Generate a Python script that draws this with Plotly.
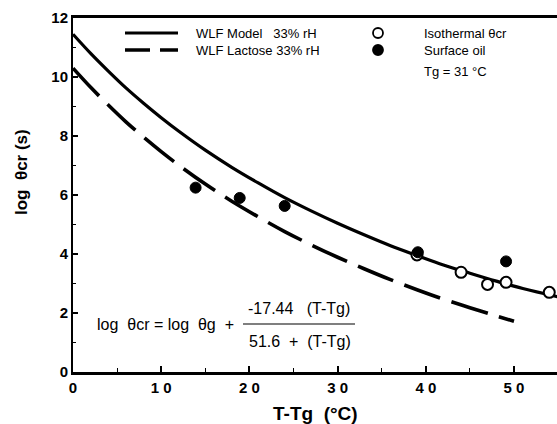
import plotly.graph_objects as go

# --- data ---
model_x = [0, 2, 4, 6, 8, 10, 12, 15, 18, 21, 24, 27, 30, 33, 36, 39, 42, 45, 48, 51, 55]
model_y = [11.45, 10.80, 10.20, 9.63, 9.11, 8.62, 8.16, 7.52, 6.94, 6.41, 5.91, 5.46,
           5.04, 4.65, 4.28, 3.95, 3.63, 3.35, 3.08, 2.83, 2.55]

lactose_x = [0, 2, 4, 6, 8, 10, 12, 15, 18, 21, 24, 27, 30, 33, 36, 39, 42, 45, 48, 50]
lactose_y = [10.30, 9.65, 9.05, 8.48, 7.96, 7.47, 7.01, 6.37, 5.79, 5.26, 4.76, 4.31,
             3.89, 3.50, 3.13, 2.79, 2.47, 2.18, 1.90, 1.72]

iso_x = [39.0, 44.0, 47.0, 49.1, 54.0]
iso_y = [3.97, 3.38, 2.97, 3.04, 2.70]

oil_x = [13.9, 18.9, 24.0, 39.1, 49.1]
oil_y = [6.25, 5.90, 5.63, 4.06, 3.75]

x_tickvals = [0, 10, 20, 30, 40, 50]
x_ticktext = ["0", "1 0", "2 0", "3 0", "4 0", "5 0"]
y_tickvals = [0, 2, 4, 6, 8, 10, 12]
y_ticktext = ["0", "2", "4", "6", "8", "10", "12"]

legend_lines = ["WLF Model   33% rH", "WLF Lactose 33% rH"]
legend_marks = ["Isothermal θcr", "Surface oil"]
tg_note = "Tg = 31 °C"

# --- layout geometry (pixels) ---
W, H = 557, 424
L, R, T, B = 73, 557, 18, 372


def px(x):
    return (x - L) / (R - L)


def py(y):
    return (B - y) / (B - T)


FONT = "Liberation Sans, Arial, Helvetica, sans-serif"

fig = go.Figure()
fig.add_trace(go.Scatter(x=model_x, y=model_y, mode="lines",
                         line=dict(color="black", width=3.2, shape="spline"),
                         showlegend=False, cliponaxis=False))
fig.add_trace(go.Scatter(x=lactose_x, y=lactose_y, mode="lines",
                         line=dict(color="black", width=3.6, dash="38px,12px", shape="spline"),
                         showlegend=False, cliponaxis=False))
fig.add_trace(go.Scatter(x=iso_x, y=iso_y, mode="markers",
                         marker=dict(symbol="circle", size=11, color="white",
                                     line=dict(color="black", width=2)),
                         showlegend=False, cliponaxis=False))
fig.add_trace(go.Scatter(x=oil_x, y=oil_y, mode="markers",
                         marker=dict(symbol="circle", size=11, color="black",
                                     line=dict(color="black", width=1)),
                         showlegend=False, cliponaxis=False))

shapes = []
annotations = []

# legend line samples
shapes.append(dict(type="line", xref="paper", yref="paper",
                   x0=px(125), x1=px(178), y0=py(33), y1=py(33),
                   line=dict(color="black", width=3.2)))
shapes.append(dict(type="line", xref="paper", yref="paper",
                   x0=px(125), x1=px(178), y0=py(50), y1=py(50),
                   line=dict(color="black", width=3.6, dash="25px,10px")))
# legend markers
for yy, fill in [(33, "white"), (50, "black")]:
    shapes.append(dict(type="circle", xref="paper", yref="paper",
                       xsizemode="pixel", ysizemode="pixel",
                       xanchor=px(378), yanchor=py(yy),
                       x0=-5, x1=5, y0=-5, y1=5,
                       fillcolor=fill, line=dict(color="black", width=1.8)))
for txt, yy in zip(legend_lines, [33, 50]):
    annotations.append(dict(text=txt, xref="paper", yref="paper", x=px(194), y=py(yy),
                            xanchor="left", yanchor="middle", showarrow=False,
                            font=dict(family=FONT, size=13, color="black")))
for txt, yy in zip(legend_marks + [tg_note], [33, 50, 71]):
    annotations.append(dict(text=txt, xref="paper", yref="paper", x=px(422), y=py(yy),
                            xanchor="left", yanchor="middle", showarrow=False,
                            font=dict(family=FONT, size=13, color="black")))

# equation
annotations.append(dict(text="log  θcr = log  θg  +", xref="paper", yref="paper",
                        x=px(95), y=py(324), xanchor="left", yanchor="middle",
                        showarrow=False, font=dict(family=FONT, size=16, color="black")))
annotations.append(dict(text="-17.44   (T-Tg)", xref="paper", yref="paper",
                        x=px(246), y=py(308), xanchor="left", yanchor="middle",
                        showarrow=False, font=dict(family=FONT, size=16, color="black")))
annotations.append(dict(text="51.6  +  (T-Tg)", xref="paper", yref="paper",
                        x=px(247), y=py(341), xanchor="left", yanchor="middle",
                        showarrow=False, font=dict(family=FONT, size=16, color="black")))
shapes.append(dict(type="line", xref="paper", yref="paper",
                   x0=px(243), x1=px(355), y0=py(324), y1=py(324),
                   line=dict(color="black", width=1.2)))

# axis titles
annotations.append(dict(text="<b>T-Tg  (°C)</b>", xref="paper", yref="paper",
                        x=px(315), y=py(413), xanchor="center", yanchor="middle",
                        showarrow=False, font=dict(family=FONT, size=19, color="black")))
annotations.append(dict(text="<b>log  θcr (s)</b>", xref="paper", yref="paper",
                        x=px(21), y=py(172), xanchor="center", yanchor="middle",
                        textangle=-90, showarrow=False,
                        font=dict(family=FONT, size=17, color="black")))

fig.update_layout(
    width=W, height=H,
    margin=dict(l=L, r=W - R, t=T, b=H - B, pad=0),
    paper_bgcolor="white", plot_bgcolor="white",
    shapes=shapes, annotations=annotations,
    font=dict(family=FONT, color="black"),
    showlegend=False,
)
fig.update_xaxes(range=[0, (R - L) / 8.82], showgrid=False, zeroline=False,
                 showline=True, linecolor="black", linewidth=2.5, mirror=True,
                 tickvals=x_tickvals, ticktext=x_ticktext, ticks="inside",
                 ticklen=6, tickwidth=1.5, tickcolor="black",
                 minor=dict(dtick=5, tick0=0, ticks="inside", ticklen=4, tickwidth=1.2, tickcolor="black"),
                 tickfont=dict(family=FONT, size=15, color="black", weight="bold"))
fig.update_yaxes(range=[0, 12], showgrid=False, zeroline=False,
                 showline=True, linecolor="black", linewidth=2, mirror=False,
                 tickvals=y_tickvals, ticktext=y_ticktext, ticks="inside",
                 ticklen=5, tickwidth=1.5, tickcolor="black",
                 minor=dict(dtick=1, tick0=0, ticks="inside", ticklen=3, tickwidth=1.2, tickcolor="black"),
                 tickfont=dict(family=FONT, size=15, color="black", weight="bold"))

fig.write_html("out.html", config={"displayModeBar": False},
               post_script="document.body.style.margin='0';document.body.style.overflow='hidden';")
